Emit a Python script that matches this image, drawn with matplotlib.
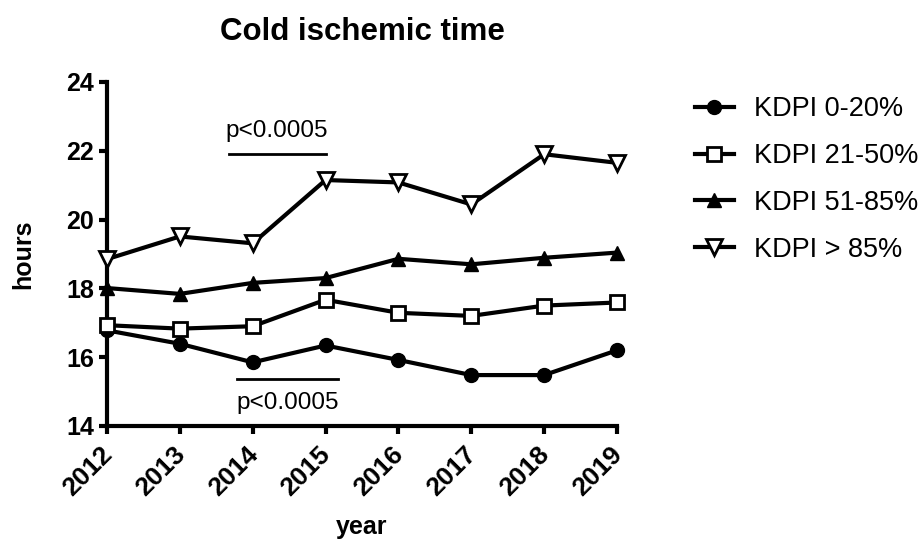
import matplotlib
matplotlib.use('Agg')
import matplotlib.pyplot as plt
import matplotlib.transforms as mtransforms

plt.rcParams['font.family'] = ['Liberation Sans', 'DejaVu Sans']

years = [2012, 2013, 2014, 2015, 2016, 2017, 2018, 2019]
kdpi_0_20 = [16.78, 16.39, 15.85, 16.34, 15.92, 15.48, 15.48, 16.20]
kdpi_21_50 = [16.93, 16.83, 16.90, 17.67, 17.29, 17.20, 17.50, 17.59]
kdpi_51_85 = [18.01, 17.84, 18.16, 18.30, 18.86, 18.70, 18.89, 19.04]
kdpi_85 = [18.85, 19.51, 19.31, 21.15, 21.08, 20.44, 21.90, 21.65]
labels = ['KDPI 0-20%', 'KDPI 21-50%', 'KDPI 51-85%', 'KDPI > 85%']
y_ticks = [14, 16, 18, 20, 22, 24]

fig = plt.figure(figsize=(9.19, 5.43), dpi=100)
ax = fig.add_axes([0.1164, 0.2155, 0.555, 0.6335])

style = dict(color='black', lw=3, clip_on=False, zorder=3)
ax.plot(years, kdpi_0_20, marker='o', ms=10, mfc='black', mec='black', label=labels[0], **style)
ax.plot(years, kdpi_21_50, marker='s', ms=9.5, mfc='white', mec='black', mew=2, label=labels[1], **style)
ax.plot(years, kdpi_51_85, marker='^', ms=10, mfc='black', mec='black', label=labels[2], **style)
ax.plot(years, kdpi_85, marker='v', ms=11, mfc='white', mec='black', mew=2, label=labels[3], **style)

# significance bars
ax.plot([2013.67, 2015.0], [21.92, 21.92], color='black', lw=2)
ax.text(2014.33, 22.58, 'p<0.0005', ha='center', va='center', fontsize=17.5)
ax.plot([2013.78, 2015.17], [15.37, 15.37], color='black', lw=2)
ax.text(2014.48, 14.66, 'p<0.0005', ha='center', va='center', fontsize=17.5)

ax.set_xlim(2012, 2019)
ax.set_ylim(14, 24)
ax.set_xticks(years)
ax.set_xticklabels([str(y) for y in years], rotation=45, ha='right', va='center',
                   rotation_mode='anchor', fontsize=19, fontweight='bold')
ax.set_yticks(y_ticks)
ax.set_yticklabels([str(v) for v in y_ticks], fontsize=18, fontweight='bold')

for s in ['top', 'right']:
    ax.spines[s].set_visible(False)
for s in ['left', 'bottom']:
    ax.spines[s].set_linewidth(3)
ax.tick_params(width=3, length=6, pad=2)
ax.tick_params(axis='y', pad=3.5)

# shift rotated year labels (after tick_params, which resets transforms)
offset = mtransforms.ScaledTranslation(1 / 72, -10 / 72, fig.dpi_scale_trans)
for lab in ax.get_xticklabels():
    lab.set_transform(lab.get_transform() + offset)

ax.set_ylabel('hours', fontsize=18, fontweight='bold')
ax.yaxis.set_label_coords(-0.14, 0.5)
ax.set_xlabel('year', fontsize=18, fontweight='bold')
ax.xaxis.set_label_coords(0.5, -0.258)
ax.set_title('Cold ischemic time', fontsize=22.5, fontweight='bold', pad=30)

ax.legend(loc='upper left', bbox_to_anchor=(1.131, 0.99), frameon=False,
          fontsize=19.5, handlelength=1.46, handletextpad=0.73, labelspacing=0.77,
          borderaxespad=0)

fig.savefig('out.png', dpi=100)
